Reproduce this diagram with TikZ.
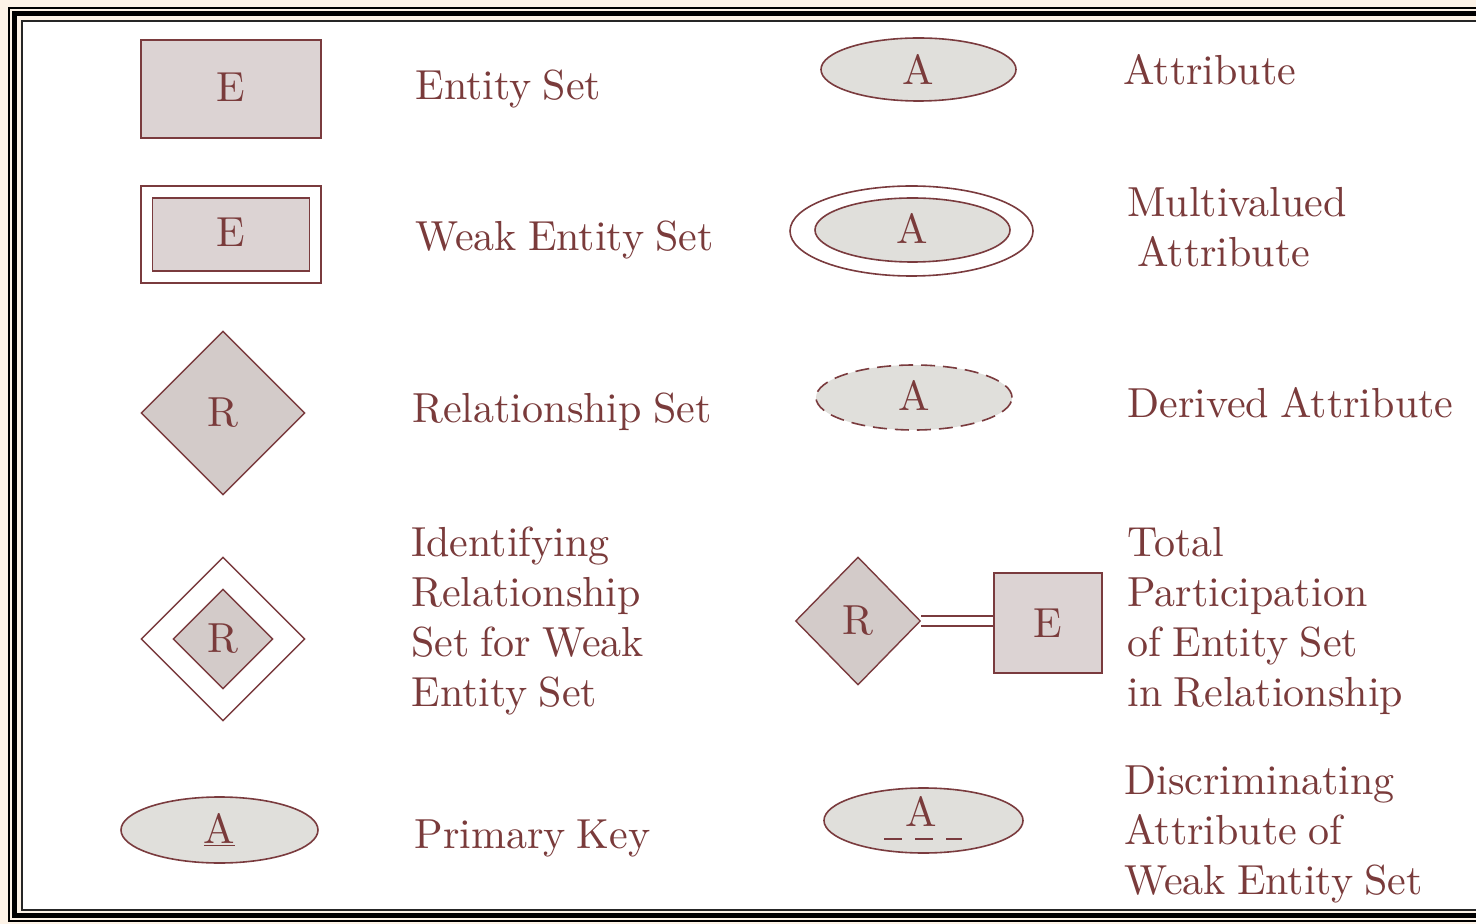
\documentclass[tikz,border=0pt]{standalone}
\usepackage{fontspec}
\setmainfont{lmroman10-regular.otf}[WordSpace=0.8]
\usetikzlibrary{shapes.geometric,calc}
\definecolor{ink}{HTML}{7A3B3B}
\definecolor{edge}{HTML}{7A3B3E}
\definecolor{entfill}{HTML}{DCD3D3}
\definecolor{attrfill}{HTML}{E0DFDB}
\definecolor{relfill}{HTML}{D3CBC9}
\definecolor{cream}{HTML}{FDF3E7}
\begin{document}
\begin{tikzpicture}[x=0.5pt,y=-0.5pt,
  every node/.style={font=\fontsize{21}{25}\selectfont, text=ink},
  entity/.style={rectangle, draw=edge, fill=entfill, line width=0.9pt, inner sep=0pt},
  attr/.style={ellipse, draw=edge, fill=attrfill, line width=0.8pt, inner sep=0pt},
  rel/.style={diamond, draw=edge, fill=relfill, line width=0.7pt, inner sep=0pt},
  lbl/.style={anchor=west, align=left, inner sep=0pt},
  framebar/.style={draw=black}
]
\clip (0,0) rectangle (1476,924);
% frame
\fill[cream] (0,0) rectangle (1476,924);
\fill[white] (22,21) rectangle (1500,910);
\draw[framebar, line width=1pt] (9,8) rectangle (1500,921);
\draw[framebar, line width=2.5pt] (14.5,14) rectangle (1500,915.5);
\draw[framebar, line width=1pt, draw=black!85] (22,21) rectangle (1500,910);

% row 1
\node[entity, minimum width=90pt, minimum height=49pt] (e1) at (231,89) {\raisebox{2pt}{E}};
\node[lbl] (t1) at (415,89) {Entity Set};
\node[attr, minimum width=97.5pt, minimum height=31.5pt] (a1) at (918.5,69.5) {A};
\node[lbl] (t2) at (1123,70) {Attribute};

% row 2
\node[entity, fill=white, minimum width=90pt, minimum height=48.5pt] (w1) at (231,234.5) {};
\node[entity, minimum width=78.5pt, minimum height=36.5pt] (w2) at (231,234.5) {\raisebox{2pt}{E}};
\node[lbl] (t3) at (415,240) {Weak Entity Set};
\node[attr, fill=white, minimum width=121.5pt, minimum height=45pt] (m1) at (911.5,231) {};
\node[attr, minimum width=97.5pt, minimum height=32pt] (m2) at (912.5,230) {\raisebox{1.5pt}{A}};
\node[lbl] (t4) at (1127,227) {Multivalued\\\hspace{5pt}Attribute};

% row 3
\node[rel, minimum width=82pt, minimum height=82pt] (r1) at (223,413) {R};
\node[lbl] (t5) at (412,412) {Relationship Set};
\node[attr, dashed, dash pattern=on 7pt off 4pt, minimum width=98pt, minimum height=32.5pt] (d1) at (914,397.5) {\raisebox{2pt}{A}};
\node[lbl] (t6) at (1127,403) {Derived Attribute};

% row 4
\node[rel, fill=white, minimum width=82pt, minimum height=82pt] (i1) at (223,639) {};
\node[rel, minimum width=50pt, minimum height=50pt] (i2) at (223,639) {R};
\node[lbl] (t7) at (411,621) {Identifying\\Relationship\\Set for Weak\\Entity Set};
\node[rel, minimum width=62.5pt, minimum height=64pt] (p1) at (858,621) {R};
\node[entity, minimum width=54pt, minimum height=50pt] (p2) at (1048,623) {E};
\draw[draw=edge, line width=0.8pt, double=white, double distance=4.2pt] (p1.east) -- (p1.east -| p2.west);
\node[lbl] (t8) at (1127,621) {Total\\Participation\\of Entity Set\\in Relationship};

% row 5
\node[attr, minimum width=98.5pt, minimum height=33pt] (k1) at (219.5,830) {\underline{A}};
\node[lbl] (t9) at (414,838) {Primary Key};
\node[attr, minimum width=99.5pt, minimum height=32.5pt] (k2) at (923.5,820.5) {};
\node[inner sep=0pt] (k2t) at (921,811) {A};
\draw[draw=edge, line width=0.8pt, dash pattern=on 9pt off 6.5pt] ($(k2.center)+(-39.5,18.5)$) coordinate (u1) -- ($(k2.center)+(38.5,18.5)$) coordinate (u2);
\node[lbl] (t10) at (1124,834) {Discriminating\\Attribute of\\Weak Entity Set};
\end{tikzpicture}
\end{document}
